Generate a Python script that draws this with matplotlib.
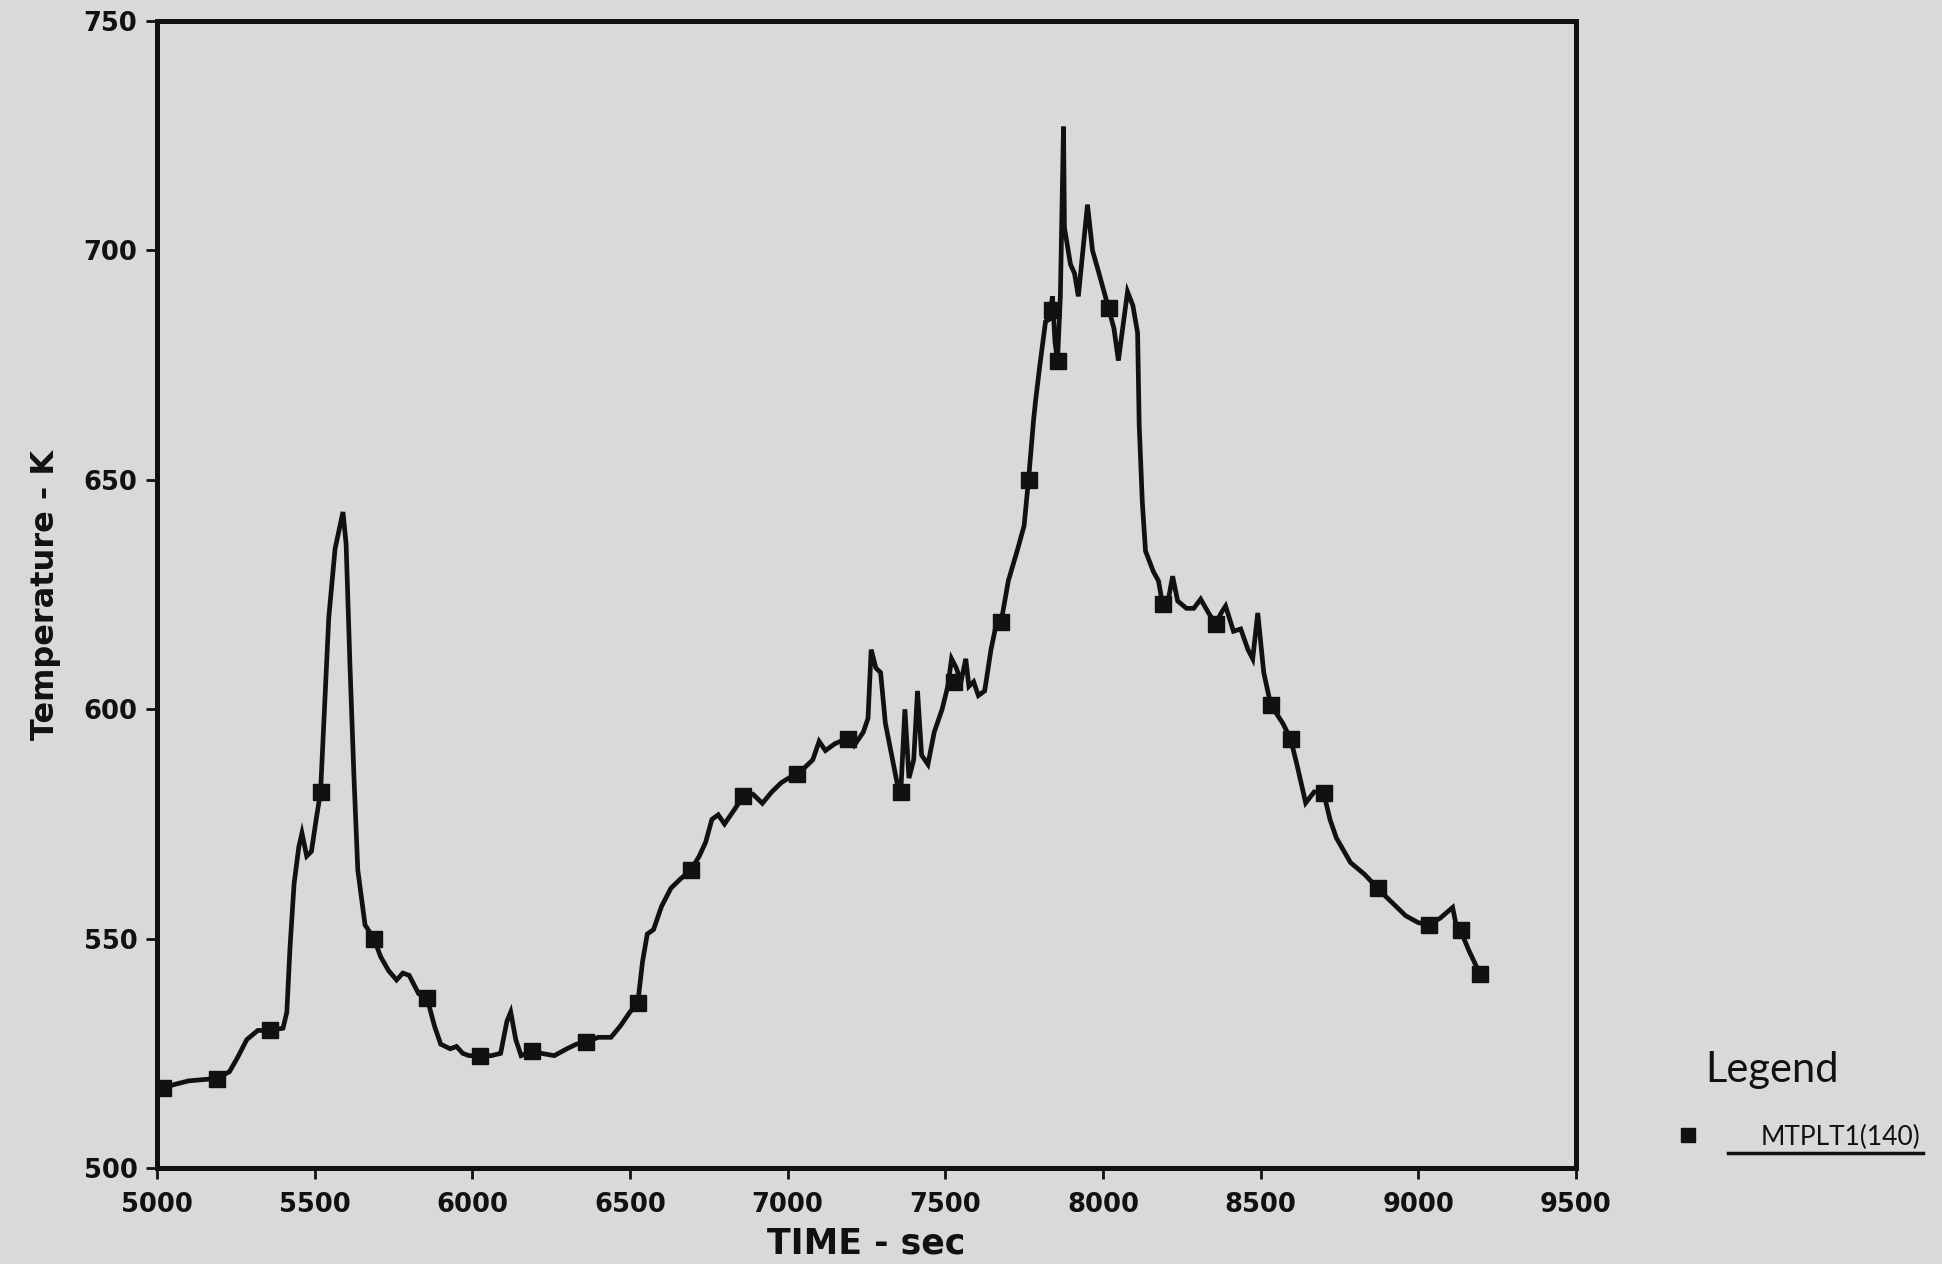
import matplotlib
matplotlib.use('Agg')
import matplotlib.pyplot as plt
from matplotlib.lines import Line2D

# time (sec) and temperature (K)
time = [5020, 5060, 5100, 5150, 5189, 5230, 5255, 5285, 5320, 5358, 5400, 5412, 5422, 5435,
        5450, 5460, 5475, 5490, 5505, 5519, 5530, 5545, 5565, 5590, 5600, 5612, 5625, 5637,
        5660, 5688, 5710, 5735, 5760, 5780, 5800, 5830, 5857, 5880, 5900, 5930, 5950, 5970,
        5990, 6026, 6060, 6090, 6110, 6122, 6138, 6155, 6190, 6220, 6260, 6300, 6330, 6360,
        6400, 6440, 6470, 6500, 6525, 6540, 6555, 6575, 6600, 6630, 6660, 6694, 6720, 6740,
        6760, 6780, 6800, 6830, 6859, 6890, 6920, 6950, 6980, 7016, 7050, 7080, 7100, 7120,
        7150, 7185, 7210, 7240, 7255, 7265, 7280, 7295, 7310, 7330, 7350, 7359, 7372, 7385,
        7400, 7412, 7425, 7445, 7465, 7490, 7508, 7520, 7535, 7550, 7565, 7575, 7590, 7605,
        7625, 7645, 7660, 7677, 7700, 7730, 7750, 7764, 7780, 7786, 7800, 7818, 7830, 7840,
        7848, 7856, 7865, 7875, 7878, 7897, 7910, 7922, 7951, 7967, 7986, 8018, 8035, 8049,
        8078, 8095, 8110, 8115, 8125, 8135, 8160, 8176, 8189, 8205, 8221, 8237, 8265, 8288,
        8310, 8335, 8357, 8375, 8389, 8414, 8437, 8460, 8475, 8491, 8510, 8532, 8570, 8595,
        8615, 8643, 8670, 8700, 8720, 8740, 8785, 8830, 8871, 8900, 8930, 8960, 9000, 9033,
        9070, 9109, 9120, 9134, 9160, 9195]
temp = [517.5, 518.3, 519, 519.3, 519.5, 521, 524, 528, 530, 530, 530.5, 534, 548, 562,
        570, 573, 568, 569, 576, 582, 598, 620, 635, 643, 636, 610, 585, 565,
        553, 550, 546, 543, 541, 542.5, 542, 538, 537, 531, 527, 526, 526.5, 525,
        524.5, 524.5, 524.5, 525, 532, 534, 528, 524.5, 525.5, 525, 524.5, 526, 527, 527.5,
        528.5, 528.5, 531, 534, 536, 545, 551, 552, 557, 561, 563, 565, 568, 571,
        576, 577, 575, 578, 581, 581.5, 579.5, 582, 584, 585.5, 587, 589, 593, 591,
        592.5, 593.5, 592, 595, 598, 613, 609, 608, 597, 590, 583, 582, 600, 585,
        589, 604, 590, 588, 595, 600, 605, 611, 609, 606, 611, 605, 606, 603,
        604, 613, 618, 619, 628, 635, 640, 650, 663, 667, 675, 684.5, 685, 690,
        680, 676, 690, 727, 705, 697, 695, 690, 710, 700, 695.4, 687.4, 683, 676,
        691, 688, 682, 662, 645, 634.5, 630, 628, 623, 623, 629, 623.6, 622, 622,
        624, 621, 618.6, 621, 622.5, 617, 617.5, 613, 611, 621, 608, 601, 597, 593.6,
        588, 579.6, 582, 581.8, 576, 572, 566.6, 564, 561, 559, 557, 555, 553.5, 553,
        554.5, 556.8, 553, 551.8, 547.5, 542.4]

# square symbols along the curve
mark_time = [5020, 5189, 5358, 5519, 5688, 5857, 6026, 6190, 6360, 6525, 6694, 6859, 7030,
             7190, 7359, 7528, 7677, 7764, 7840, 7856, 8018, 8189, 8357, 8532, 8595, 8700,
             8871, 9033, 9134, 9195]
mark_temp = [517.5, 519.5, 530, 582, 550, 537, 524.5, 525.5, 527.5, 536, 565, 581, 586,
             593.5, 582, 606, 619, 650, 687, 676, 687.4, 623, 618.6, 601, 593.6, 581.8,
             561, 553, 551.8, 542.4]

x_ticks = [5000, 5500, 6000, 6500, 7000, 7500, 8000, 8500, 9000, 9500]
y_ticks = [500, 550, 600, 650, 700, 750]

bg = '#d9d9d9'
ink = '#111111'

fig = plt.figure(figsize=(19.42, 12.64), dpi=100, facecolor=bg)
ax = fig.add_axes([0.0808, 0.0759, 0.7307, 0.9074], facecolor=bg)

ax.plot(time, temp, color=ink, lw=3.4, solid_joinstyle='miter')
ax.plot(mark_time, mark_temp, ls='none', marker='s', ms=11, color=ink)

ax.set_xlim(5000, 9500)
ax.set_ylim(500, 750)
ax.set_xticks(x_ticks)
ax.set_yticks(y_ticks)
ax.tick_params(axis='both', direction='out', length=8, width=2, color=ink, pad=6,
               labelsize=18.5, labelcolor=ink)
ax.tick_params(axis='x', pad=9)
for lab in ax.get_xticklabels() + ax.get_yticklabels():
    lab.set_fontweight('bold')
for sp in ax.spines.values():
    sp.set_linewidth(3.6)
    sp.set_color(ink)

ax.set_xlabel('TIME - sec', fontsize=25, fontweight='bold', color=ink, labelpad=6)
ax.set_ylabel('Temperature - K', fontsize=23, fontweight='bold', color=ink, labelpad=16)

# legend block at the lower right
fig.text(1772 / 1942, 1 - 1082 / 1264, 'Legend', fontsize=30, family='Lato',
         color=ink, ha='center', va='baseline')
fig.add_artist(Line2D([1688 / 1942], [1 - 1135 / 1264], marker='s', ms=10, color=ink,
                      ls='none'))
fig.text(1840 / 1942, 1 - 1145 / 1264, 'MTPLT1(140)', fontsize=19, family='Lato',
         color=ink, ha='center', va='baseline')
fig.add_artist(Line2D([1728 / 1942, 1923 / 1942], [1 - 1153 / 1264, 1 - 1153 / 1264],
                      color=ink, lw=2.5))

fig.savefig('out.png', dpi=100, facecolor=bg)
